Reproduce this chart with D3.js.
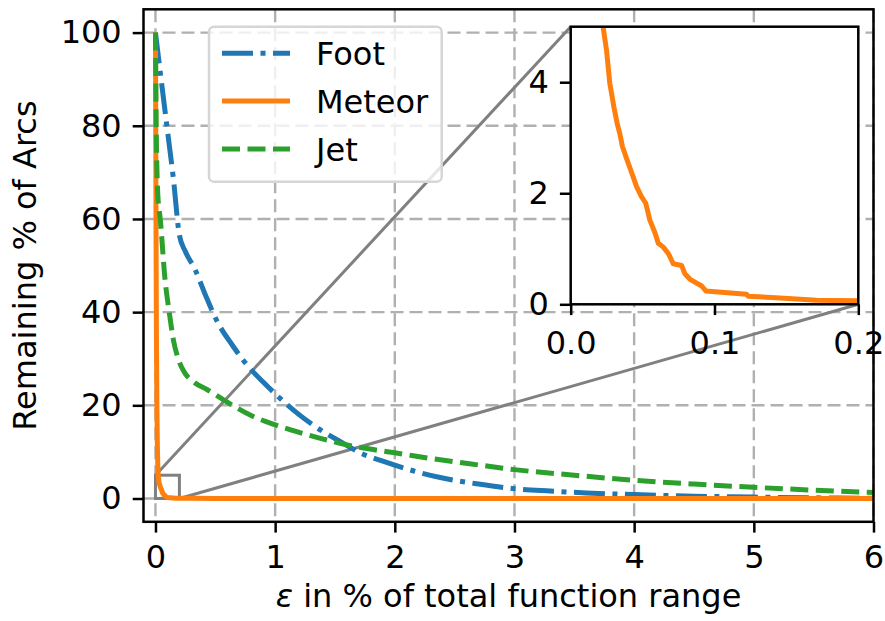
<!DOCTYPE html>
<html>
<head>
<meta charset="utf-8">
<script src="https://cdn.jsdelivr.net/npm/d3@7"></script>
<style>
body { margin: 0; background: #fff; }
text { font-family: "DejaVu Sans", sans-serif; }
</style>
</head>
<body>
<div id="chart"></div>
<script>
// values
var footX = [0, 0.04, 0.1, 0.15, 0.2, 0.25, 0.33, 0.42, 0.52, 0.64, 0.77, 0.9, 1.02, 1.2, 1.41, 1.56, 1.71, 1.9, 2.16, 2.38, 2.7, 3.0, 3.3, 3.6, 4.0, 4.5, 5.0, 5.5, 6.0];
var footY = [100, 91.5, 79, 68.6, 56.5, 53, 49.2, 43.5, 37.8, 33, 28.5, 25, 22, 18, 14.2, 12, 9.8, 8, 5.9, 4.5, 3.1, 2.1, 1.6, 1.2, 0.85, 0.5, 0.3, 0.15, 0.05];

var meteorX = [0, 0.002, 0.005, 0.008, 0.012, 0.016, 0.02, 0.0225, 0.0249, 0.0272, 0.03, 0.0323, 0.0341, 0.036, 0.0392, 0.0434, 0.0458, 0.0492, 0.0522, 0.055, 0.0587, 0.0609, 0.0644, 0.068, 0.0713, 0.0771, 0.0794, 0.083, 0.0911, 0.094, 0.1223, 0.1235, 0.1456, 0.171, 0.2, 0.3, 0.5, 1, 2, 6];
var meteorY = [100, 82, 55, 35, 20, 11, 6.6, 5.0, 4.58, 3.98, 3.56, 3.26, 3.08, 2.84, 2.6, 2.3, 2.12, 1.94, 1.82, 1.52, 1.28, 1.1, 1.03, 0.91, 0.73, 0.7, 0.55, 0.45, 0.33, 0.24, 0.18, 0.145, 0.114, 0.072, 0.065, 0.03, 0.02, 0.01, 0, 0];

var jetX = [0, 0.003, 0.006, 0.02, 0.04, 0.08, 0.115, 0.15, 0.19, 0.23, 0.32, 0.43, 0.55, 0.65, 0.8, 0.99, 1.2, 1.41, 1.6, 1.82, 2.0, 2.38, 2.7, 3.0, 3.5, 4.0, 4.5, 5.0, 5.5, 6.0];
var jetY = [100, 90, 80, 65, 60, 47, 40, 34, 30, 27.6, 25, 23.4, 21.5, 19.9, 17.8, 15.9, 14.2, 12.7, 11.5, 10.5, 9.8, 8.3, 7.2, 6.2, 5.0, 3.9, 3.1, 2.4, 1.8, 1.3];

var seriesNames = ['Foot', 'Meteor', 'Jet'];
var xTicks = [0, 1, 2, 3, 4, 5, 6];
var yTicks = [0, 20, 40, 60, 80, 100];
var insetXTicks = [0, 0.1, 0.2];
var insetYTicks = [0, 2, 4];

var W = 885, H = 621;
var fs = 32;
var box = {left: 143.5, top: 9.3, right: 873.5, bottom: 521.8};
var ibox = {left: 570.7, top: 26.7, right: 858.3, bottom: 304.3};

var styles = {
  Foot:   {color: '#1f77b4', dash: '31,7.5,5,7.5'},
  Meteor: {color: '#ff7f0e', dash: null},
  Jet:    {color: '#2ca02c', dash: '18,7.5'}
};

function zip(xs, ys) { return xs.map(function(v, i) { return {x: v, y: ys[i]}; }); }
var data = {
  Foot: zip(footX, footY),
  Meteor: zip(meteorX, meteorY),
  Jet: zip(jetX, jetY)
};

var svg = d3.select('#chart').append('svg')
  .attr('width', W).attr('height', H)
  .style('display', 'block');

var x = d3.scaleLinear().domain([-0.1, 6]).range([box.left, box.right]);
var y = d3.scaleLinear().domain([-5, 105]).range([box.bottom, box.top]);

var defs = svg.append('defs');
defs.append('clipPath').attr('id', 'clipMain').append('rect')
  .attr('x', box.left).attr('y', box.top)
  .attr('width', box.right - box.left).attr('height', box.bottom - box.top);
defs.append('clipPath').attr('id', 'clipInset').append('rect')
  .attr('x', ibox.left).attr('y', ibox.top)
  .attr('width', ibox.right - ibox.left).attr('height', ibox.bottom - ibox.top);

// grid
var grid = svg.append('g').attr('stroke', '#b0b0b0').attr('stroke-width', 2.4).attr('stroke-dasharray', '13,6');
grid.selectAll('.vx').data(xTicks).enter().append('line')
  .attr('x1', d => x(d)).attr('x2', d => x(d)).attr('y1', box.top).attr('y2', box.bottom);
grid.selectAll('.hy').data(yTicks).enter().append('line')
  .attr('y1', d => y(d)).attr('y2', d => y(d)).attr('x1', box.left).attr('x2', box.right);

// inset marker (under the curves)
var mark = svg.append('g').attr('stroke', '#808080').attr('stroke-width', 3).attr('fill', 'none');
mark.append('rect')
  .attr('x', x(0)).attr('y', y(5))
  .attr('width', x(0.2) - x(0)).attr('height', y(0) - y(5));
mark.append('line').attr('x1', x(0)).attr('y1', y(5)).attr('x2', ibox.left).attr('y2', ibox.top);
mark.append('line').attr('x1', x(0.2)).attr('y1', y(0)).attr('x2', ibox.right).attr('y2', ibox.bottom);

function drawSeries(g, sx, sy, clip) {
  seriesNames.forEach(function(name) {
    var line = d3.line()
      .x(d => sx(d.x)).y(d => sy(d.y))
      .curve(name === 'Meteor' ? d3.curveLinear : d3.curveMonotoneX);
    g.append('path')
      .datum(data[name])
      .attr('clip-path', 'url(#' + clip + ')')
      .attr('d', line)
      .attr('fill', 'none')
      .attr('stroke', styles[name].color)
      .attr('stroke-width', 5)
      .attr('stroke-linejoin', 'round')
      .attr('stroke-dasharray', styles[name].dash);
  });
}
drawSeries(svg.append('g'), x, y, 'clipMain');

// main axes
var xAxis = svg.append('g')
  .attr('transform', 'translate(0,' + box.bottom + ')')
  .call(d3.axisBottom(x).tickValues(xTicks).tickFormat(d3.format('d')).tickSize(10.8).tickPadding(13));
var yAxis = svg.append('g')
  .attr('transform', 'translate(' + box.left + ',0)')
  .call(d3.axisLeft(y).tickValues(yTicks).tickFormat(d3.format('d')).tickSize(10.8).tickPadding(11));
[xAxis, yAxis].forEach(function(a) {
  a.select('.domain').remove();
  a.selectAll('.tick line').attr('stroke', '#000').attr('stroke-width', 2.5);
  a.selectAll('.tick text').attr('font-size', fs).attr('font-family', 'DejaVu Sans').attr('fill', '#000');
});
svg.append('rect')
  .attr('x', box.left).attr('y', box.top)
  .attr('width', box.right - box.left).attr('height', box.bottom - box.top)
  .attr('fill', 'none').attr('stroke', '#000').attr('stroke-width', 2.5);

// axis labels
var xl = svg.append('text')
  .attr('x', (box.left + box.right) / 2).attr('y', 607)
  .attr('text-anchor', 'middle').attr('font-size', fs);
xl.append('tspan').attr('font-style', 'italic').text('ε');
xl.append('tspan').text(' in % of total function range');

svg.append('text')
  .attr('transform', 'translate(36,' + ((box.top + box.bottom) / 2) + ') rotate(-90)')
  .attr('text-anchor', 'middle').attr('font-size', fs)
  .text('Remaining % of Arcs');

// legend
var lg = svg.append('g');
lg.append('rect')
  .attr('x', 209).attr('y', 26.7).attr('width', 232.7).attr('height', 155)
  .attr('rx', 5).attr('ry', 5)
  .attr('fill', '#fff').attr('fill-opacity', 0.8)
  .attr('stroke', '#d6d6d6').attr('stroke-width', 2.5);
var rowY = [53.3, 101, 149];
seriesNames.forEach(function(name, i) {
  lg.append('line')
    .attr('x1', 222).attr('x2', 290).attr('y1', rowY[i]).attr('y2', rowY[i])
    .attr('stroke', styles[name].color).attr('stroke-width', 5)
    .attr('stroke-dasharray', styles[name].dash);
  lg.append('text')
    .attr('x', 316).attr('y', rowY[i] + 11.5)
    .attr('font-size', fs)
    .text(name);
});

// inset
var xi = d3.scaleLinear().domain([0, 0.2]).range([ibox.left, ibox.right]);
var yi = d3.scaleLinear().domain([0, 5]).range([ibox.bottom, ibox.top]);
var ins = svg.append('g');
ins.append('rect')
  .attr('x', ibox.left).attr('y', ibox.top)
  .attr('width', ibox.right - ibox.left).attr('height', ibox.bottom - ibox.top)
  .attr('fill', '#fff');
drawSeries(ins, xi, yi, 'clipInset');
var ixa = ins.append('g')
  .attr('transform', 'translate(0,' + ibox.bottom + ')')
  .call(d3.axisBottom(xi).tickValues(insetXTicks).tickFormat(d3.format('.1f')).tickSize(10.8).tickPadding(16));
var iya = ins.append('g')
  .attr('transform', 'translate(' + ibox.left + ',0)')
  .call(d3.axisLeft(yi).tickValues(insetYTicks).tickFormat(d3.format('d')).tickSize(10.8).tickPadding(11));
[ixa, iya].forEach(function(a) {
  a.select('.domain').remove();
  a.selectAll('.tick line').attr('stroke', '#000').attr('stroke-width', 2.5);
  a.selectAll('.tick text').attr('font-size', fs).attr('font-family', 'DejaVu Sans').attr('fill', '#000');
});
ins.append('rect')
  .attr('x', ibox.left).attr('y', ibox.top)
  .attr('width', ibox.right - ibox.left).attr('height', ibox.bottom - ibox.top)
  .attr('fill', 'none').attr('stroke', '#000').attr('stroke-width', 2.5);
</script>
</body>
</html>
